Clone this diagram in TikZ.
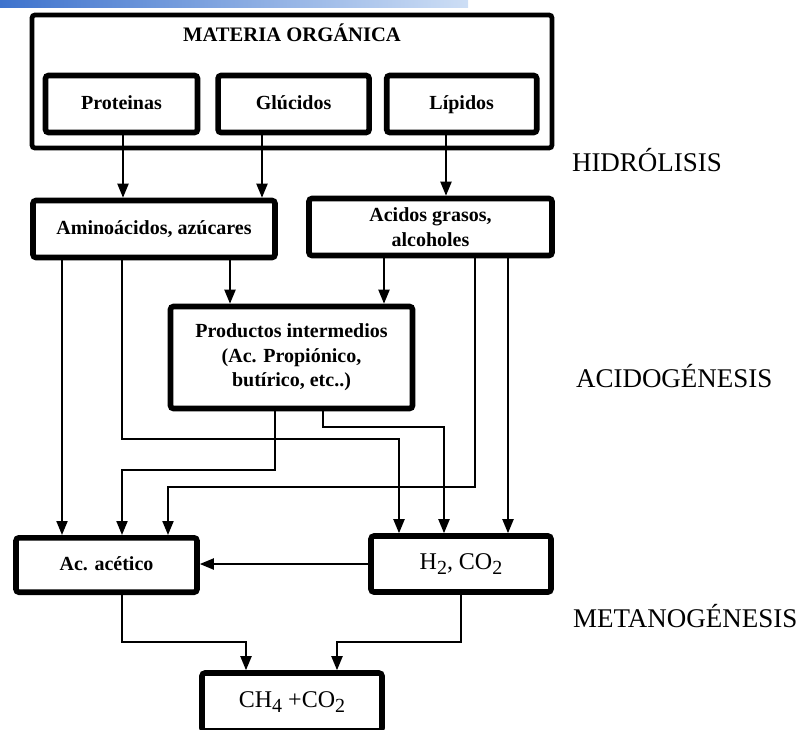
\documentclass[tikz,border=0pt]{standalone}
\usepackage{fontspec}
\setmainfont{Liberation Serif}
\usetikzlibrary{arrows.meta, positioning}

\definecolor{barblue}{RGB}{62,115,205}
\definecolor{barlight}{RGB}{205,222,245}
\newcommand{\subidx}[1]{\raisebox{-0.5ex}{\fontsize{10}{10}\selectfont #1}}

\begin{document}
\begin{tikzpicture}[x=0.5pt,y=-0.5pt,>={Triangle[length=7pt,width=5.5pt]},line width=1pt,
    box/.style={draw,line width=2.8pt,rounded corners=1.5pt,align=center,inner sep=2pt,
                font=\bfseries\fontsize{10}{12.2}\selectfont},
    oneline/.style={text height=7pt,text depth=2pt},
    gasbox/.style={box,oneline,font=\fontsize{12}{14}\selectfont},
    stage/.style={anchor=base west,inner sep=0pt,font=\fontsize{13.5}{16}\selectfont}]
    \useasboundingbox (0,0) rectangle (807,729);
    \clip (0,0) rectangle (807,729);
    \shade[left color=barblue,right color=barlight] (0,0) rectangle (468,7);

    % materia organica
    \node[box,line width=2.4pt,minimum width=260pt,minimum height=66.5pt] (mat) at (292,81.5) {};
    \node[font=\bfseries\fontsize{10.3}{12}\selectfont] (mattit) at (292,33) {MATERIA ORGÁNICA};
    \node[box,oneline,minimum width=76pt,minimum height=28.5pt] (prot) at (121.5,104) {Proteinas};
    \node[box,oneline,minimum width=75.5pt,minimum height=28.5pt] (gluc) [right=7.5pt of prot] {Glúcidos};
    \node[box,oneline,minimum width=75pt,minimum height=28.5pt] (lip) [right=6pt of gluc] {Lípidos};

    % productos
    \node[box,oneline,minimum width=121pt,minimum height=28.5pt] (amino) at (154,229) {Aminoácidos, azúcares};
    \node[box,minimum width=121.5pt,minimum height=28.5pt] (acid) at (430.5,227) {Acidos grasos,\\alcoholes};
    \node[box,minimum width=121pt,minimum height=51pt] (prod) at (291.5,357.5)
        {Productos intermedios\\(Ac. Propiónico,\\butírico, etc..)};
    \node[box,oneline,minimum width=90.5pt,minimum height=27.2pt] (acet) at (106.5,565) {Ac. acético};
    \node[gasbox,minimum width=90pt,minimum height=28pt] (h2) at (461,564) {H\subidx{2}, CO\subidx{2}};
    \node[gasbox,minimum width=90pt,minimum height=29pt] (ch4) at (292,702) {CH\subidx{4} +CO\subidx{2}};

    % etapas
    \node[stage] (hidro) at (571,171) {HIDRÓLISIS};
    \node[stage] (acido) at (575,387) {ACIDOGÉNESIS};
    \node[stage] (metano) at (572,627) {METANOGÉNESIS};

    \path[->] (prot.south -| 123,0) edge (amino.north -| 123,0)
              (gluc.south -| 262,0) edge (amino.north -| 262,0)
              (lip.south -| 446,0) edge (acid.north -| 446,0)
              (amino.south -| 62,0) edge (acet.north -| 62,0)
              (amino.south -| 230,0) edge (prod.north -| 230,0)
              (acid.south -| 384,0) edge (prod.north -| 384,0)
              (acid.south -| 508,0) edge (h2.north -| 508,0)
              (h2.west) edge (acet.east |- h2.west);

    \draw[->] (amino.south -| 122,0) |- (399,439) -- (h2.north -| 399,0);
    \draw[->] (acid.south -| 475,0) |- (168,487) -- (acet.north -| 168,0);
    \draw[->] (prod.south -| 275,0) |- (122,470) -- (acet.north -| 122,0);
    \draw[->] (prod.south -| 323,0) |- (444,427) -- (h2.north -| 444,0);
    \draw[->] (acet.south -| 122,0) |- (246,642) -- (ch4.north -| 246,0);
    \draw[->] (h2.south -| 461,0) |- (337,642) -- (ch4.north -| 337,0);
\end{tikzpicture}
\end{document}
